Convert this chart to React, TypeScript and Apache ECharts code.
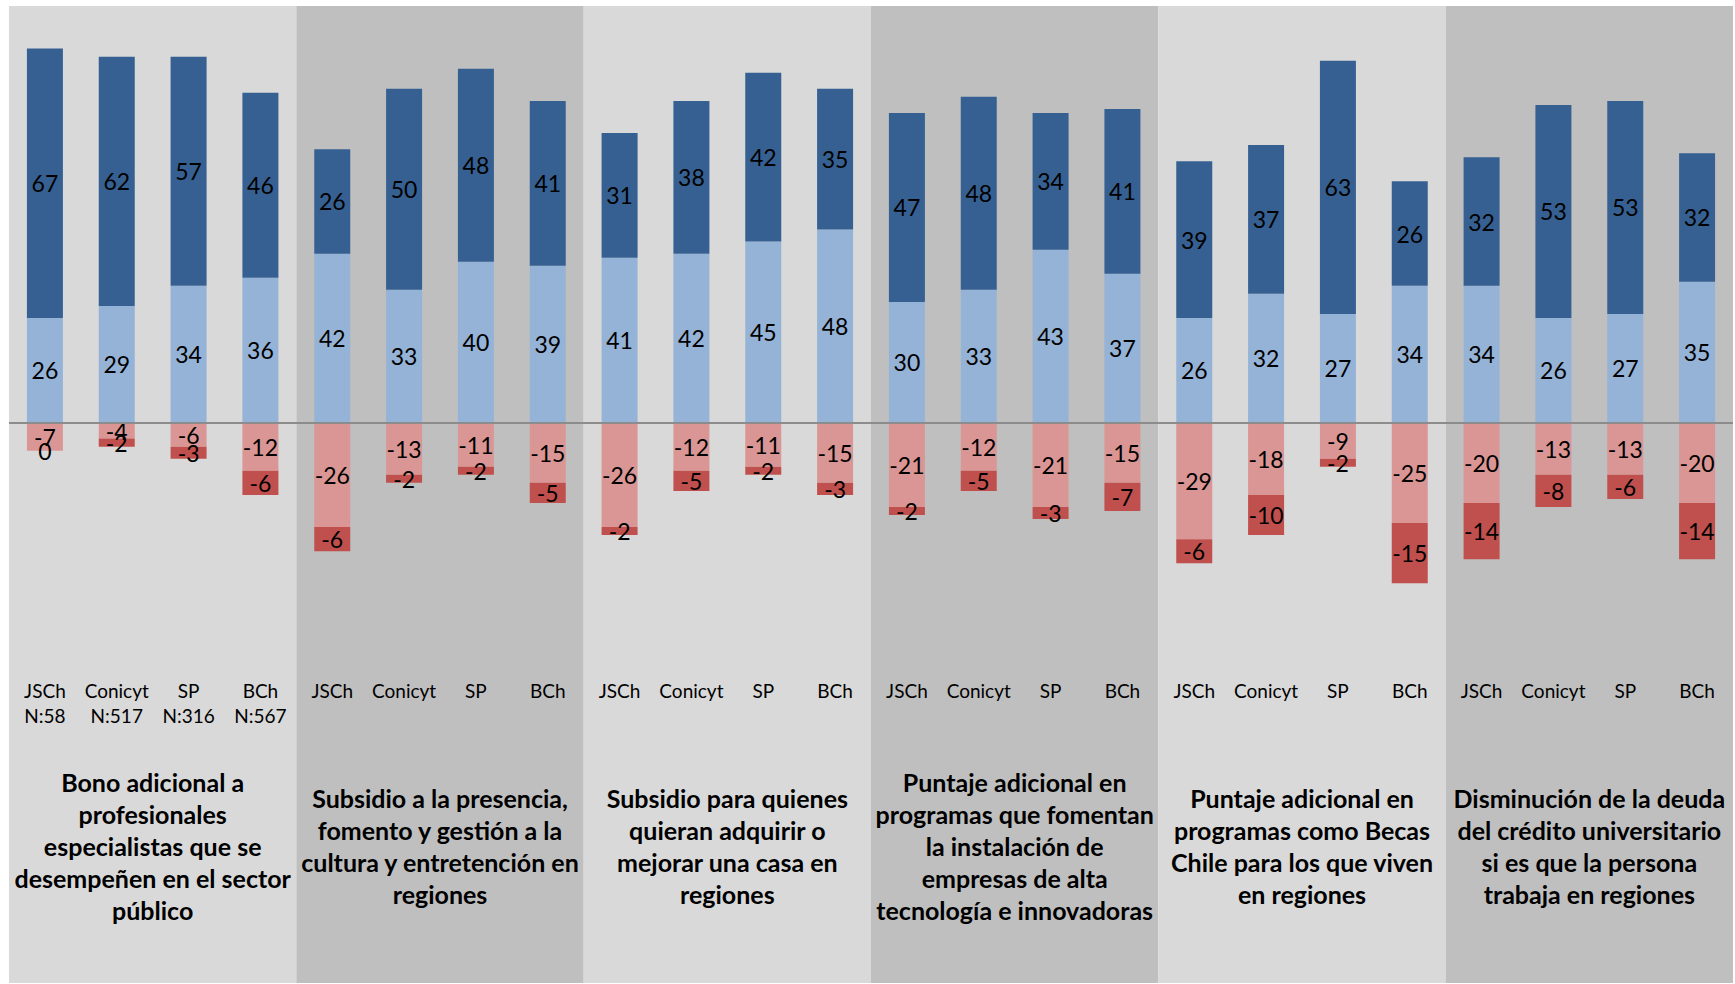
import React, { useEffect, useRef } from "react";
import * as echarts from "echarts";

const programs = ["JSCh", "Conicyt", "SP", "BCh"];
const sampleSizes = ["N:58", "N:517", "N:316", "N:567"];

const groups = [
  "Bono adicional a\nprofesionales\nespecialistas que se\ndesempeñen en el sector\npúblico",
  "Subsidio a la presencia,\nfomento y gestión a la\ncultura y entretención en\nregiones",
  "Subsidio para quienes\nquieran adquirir o\nmejorar una casa en\nregiones",
  "Puntaje adicional en\nprogramas que fomentan\nla instalación de\nempresas de alta\ntecnología e innovadoras",
  "Puntaje adicional en\nprogramas como Becas\nChile para los que viven\nen regiones",
  "Disminución de la deuda\ndel crédito universitario\nsi es que la persona\ntrabaja en regiones",
];

const lightBlue = [26, 29, 34, 36, 42, 33, 40, 39, 41, 42, 45, 48, 30, 33, 43, 37, 26, 32, 27, 34, 34, 26, 27, 35];
const darkBlue = [67, 62, 57, 46, 26, 50, 48, 41, 31, 38, 42, 35, 47, 48, 34, 41, 39, 37, 63, 26, 32, 53, 53, 32];
const lightRed = [-7, -4, -6, -12, -26, -13, -11, -15, -26, -12, -11, -15, -21, -12, -21, -15, -29, -18, -9, -25, -20, -13, -13, -20];
const darkRed = [0, -2, -3, -6, -6, -2, -2, -5, -2, -5, -2, -3, -2, -5, -3, -7, -6, -10, -2, -15, -14, -8, -6, -14];

const yMin = -139.4;
const yMax = 103.6;

const FONT = "Lato, 'Open Sans', sans-serif";

export default function App() {
  const ref = useRef<HTMLDivElement>(null);

  useEffect(() => {
    if (!ref.current) return;
    const chart = echarts.init(ref.current, null, { renderer: "svg" });

    const cats: string[] = [];
    groups.forEach((_, gi) => programs.forEach((p) => cats.push(`${gi}|${p}`)));

    const labelStyle = {
      show: true,
      position: "inside" as const,
      color: "#000",
      fontFamily: FONT,
      fontSize: 23,
    };

    const mkSeries = (name: string, data: number[], color: string, withLine = false) => {
      const s: any = {
        name,
        type: "bar",
        stack: "total",
        xAxisIndex: 0,
        yAxisIndex: 0,
        barWidth: 36,
        data,
        itemStyle: { color },
        label: labelStyle,
      };
      if (withLine) {
        s.markLine = {
          silent: true,
          symbol: "none",
          label: { show: false },
          lineStyle: { color: "#8c8c8c", width: 2, type: "solid" },
          z: 10,
          data: [{ yAxis: 0 }],
        };
      }
      return s;
    };

    chart.setOption({
      animation: false,
      grid: { left: 9, right: 2, top: 6, bottom: 1, containLabel: false },
      xAxis: [
        {
          type: "category",
          position: "bottom",
          data: cats,
          gridIndex: 0,
          axisLine: { show: false },
          axisTick: { show: false },
          splitLine: { show: false },
          axisLabel: {
            interval: 0,
            inside: true,
            margin: 305.5,
            verticalAlign: "top",
            align: "center",
            color: "#000",
            fontFamily: FONT,
            fontSize: 19,
            lineHeight: 25.5,
            formatter: (_v: string, idx: number) => {
              const p = programs[idx % 4];
              return idx < 4 ? `${p}\n${sampleSizes[idx]}` : p;
            },
          },
        },
        {
          type: "category",
          position: "top",
          data: groups,
          gridIndex: 0,
          axisLine: { show: false },
          axisTick: { show: false },
          splitLine: { show: false },
          splitArea: {
            show: true,
            interval: 0,
            areaStyle: { color: ["#D9D9D9", "#BFBFBF"] },
          },
          axisLabel: {
            interval: 0,
            inside: true,
            margin: 840,
            verticalAlign: "middle",
            align: "center",
            color: "#000",
            fontFamily: FONT,
            fontWeight: "bold",
            fontSize: 25,
            lineHeight: 32,
          },
        },
      ],
      yAxis: {
        type: "value",
        min: yMin,
        max: yMax,
        show: false,
        splitLine: { show: false },
      },
      series: [
        mkSeries("lightBlue", lightBlue, "#95B3D7"),
        mkSeries("darkBlue", darkBlue, "#366092"),
        mkSeries("lightRed", lightRed, "#DA9694"),
        mkSeries("darkRed", darkRed, "#C0504D", true),
      ],
    });

    return () => chart.dispose();
  }, []);

  return (
    <div
      ref={ref}
      style={{ position: "absolute", left: 0, top: 0, width: 1735, height: 984 }}
    />
  );
}
